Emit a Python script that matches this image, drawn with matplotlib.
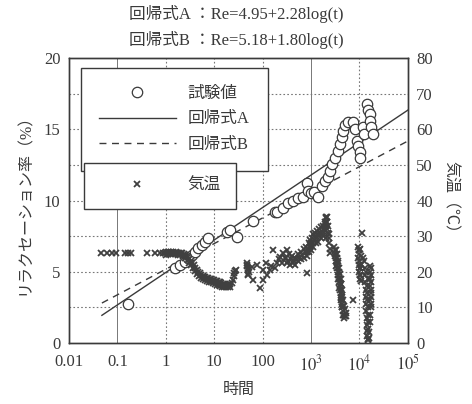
import numpy as np
import matplotlib
matplotlib.use("Agg")
import matplotlib.pyplot as plt
from matplotlib.lines import Line2D
from matplotlib.ticker import FixedLocator, FixedFormatter, NullLocator

plt.rcParams['font.family'] = ['Liberation Serif', 'Noto Sans CJK JP']
plt.rcParams['mathtext.fontset'] = 'stix'

INK = '#3a3a3a'

# 試験値 (log10 of time, relaxation %)
test_logt = [-0.78, 0.19, 0.29, 0.40, 0.46, 0.54, 0.60, 0.66, 0.75, 0.81, 0.87,
             1.26, 1.33, 1.47, 1.80, 2.25, 2.29, 2.42, 2.52, 2.63, 2.73, 2.83,
             2.91, 2.93, 3.00, 3.07, 3.14, 3.22, 3.28, 3.35, 3.39, 3.43, 3.49,
             3.55, 3.60, 3.64, 3.66, 3.70, 3.76, 3.86, 3.90, 3.95, 3.97, 4.01,
             4.01, 4.07, 4.10, 4.15, 4.17, 4.21, 4.21, 4.25, 4.28]
test_re = [2.74, 5.24, 5.47, 5.70, 5.96, 6.20, 6.40, 6.67, 6.90, 7.10, 7.40,
           7.80, 7.90, 7.45, 8.60, 9.20, 9.20, 9.50, 9.80, 10.00, 10.20, 10.25,
           11.20, 10.70, 10.50, 10.60, 10.25, 11.00, 11.40, 11.65, 12.10, 12.60, 13.00,
           13.50, 14.00, 14.50, 14.90, 15.30, 15.50, 15.50, 15.00, 14.20, 13.80, 13.40,
           13.00, 15.20, 14.70, 16.80, 16.35, 16.10, 15.60, 15.20, 14.70]

# 気温 (log10 of time, deg C)
temp_logt = [-1.33, -1.22, -1.12, -1.02, -0.84, -0.78, -0.71, -0.38, -0.22, -0.12, -0.05,
             -0.02, 0.01, 0.04, 0.07, 0.10, 0.13, 0.16, 0.19, 0.22, 0.25, 0.28, 0.31,
             0.34, 0.37, 0.40, 0.43, 0.46, 0.49, 0.52, 0.55, 0.58, 0.61, 0.64, 0.67,
             0.70, 0.73, 0.76, 0.79, 0.82, 0.85, 0.88, 0.91, 0.94, 0.97, 1.00, 1.03,
             1.06, 1.09, 1.12, 1.15, 1.18, 1.21, 1.24, 1.27, 1.30, 1.33, 1.36, 1.38,
             1.40, 1.42, 1.44, 1.46,
             1.67, 1.68, 1.69, 1.70, 1.68, 1.70, 1.71, 1.69,
             1.78, 1.80, 1.88, 1.94, 2.00, 2.00, 2.08, 2.10, 2.15, 2.18, 2.21, 2.25,
             2.29, 2.33, 2.36, 2.40, 2.42, 2.46, 2.50,
             2.48, 2.52, 2.55, 2.58, 2.61, 2.64, 2.67, 2.70, 2.73, 2.76, 2.79, 2.82,
             2.85, 2.88, 2.90, 2.91, 2.93, 2.95, 2.97, 2.99, 3.01, 3.03, 3.05, 3.07,
             3.09, 3.11, 3.13, 3.15, 3.17, 3.19, 3.21, 3.23, 3.25, 3.27, 3.29, 3.31,
             3.32, 3.33, 3.34, 3.35, 3.36, 3.37, 3.38, 3.38, 3.39, 3.39, 3.30, 3.25,
             3.20, 3.15, 3.10, 3.05, 3.00, 2.95, 2.92,
             3.47, 3.49, 3.50, 3.51, 3.52, 3.53, 3.54, 3.55, 3.56, 3.57, 3.58, 3.59,
             3.60, 3.61, 3.62, 3.63, 3.64, 3.65, 3.67, 3.69, 3.71,
             3.51, 3.53, 3.54, 3.56, 3.58, 3.59, 3.61, 3.62, 3.64, 3.65, 3.67, 3.68,
             3.70, 3.72, 3.73, 3.86,
             3.98, 3.99, 4.00, 3.98, 4.00, 3.99, 4.01, 4.00, 4.02, 4.01, 4.03, 4.02,
             4.03, 4.04, 4.05,
             4.08, 4.10, 4.11, 4.12, 4.12, 4.13, 4.13, 4.14, 4.14, 4.15, 4.15, 4.16,
             4.16, 4.17, 4.18, 4.17, 4.16, 4.17, 4.18, 4.19,
             4.21, 4.22, 4.21, 4.22, 4.23, 4.22, 4.24, 4.24, 4.25, 4.23, 4.22, 4.21]
temp_c = [25.3, 25.3, 25.3, 25.3, 25.3, 25.3, 25.3, 25.3, 25.3, 25.3, 25.3,
          25.4, 25.6, 25.5, 25.6, 25.5, 25.4, 25.6, 25.4, 25.5, 25.3, 25.4, 25.2,
          25.3, 25.0, 24.8, 24.5, 24.1, 23.6, 23.0, 22.4, 21.8, 21.2, 20.6, 20.0,
          19.6, 19.2, 18.9, 18.6, 18.4, 18.3, 18.2, 18.0, 17.9, 17.7, 17.6, 17.5,
          17.3, 17.2, 17.0, 16.8, 16.7, 16.5, 16.4, 16.3, 16.3, 16.5, 16.9, 17.8,
          18.8, 19.6, 20.2, 20.5,
          22.5, 21.5, 20.5, 19.5, 22.0, 21.0, 20.0, 19.0,
          21.3, 17.7, 21.9, 15.4, 17.7, 20.5, 22.5, 19.1, 20.5, 21.5, 26.1, 21.0,
          22.5, 23.5, 24.1, 22.5, 25.3, 24.0, 26.1,
          24.0, 23.0, 25.0, 23.5, 24.5, 23.0, 24.0, 23.5, 25.0, 24.0, 25.5, 24.8,
          26.5, 25.5, 27.0, 19.6, 26.5, 28.0, 27.0, 29.0, 28.0, 29.5, 30.5, 29.0,
          31.0, 30.0, 31.5, 30.5, 32.0, 31.0, 32.5, 31.5, 33.0, 32.0, 34.0, 33.0,
          35.0, 34.0, 35.5, 33.0, 31.0, 29.5, 28.0, 30.5, 26.5, 25.3, 29.5, 30.0,
          29.5, 28.5, 28.0, 27.0, 26.0, 25.5, 24.5,
          27.0, 26.0, 25.0, 24.0, 23.0, 22.0, 21.0, 20.0, 19.0, 18.0, 17.0, 16.0,
          15.0, 14.0, 13.0, 12.0, 11.0, 10.0, 9.0, 8.0, 7.5,
          26.0, 25.0, 24.0, 22.5, 21.0, 19.5, 18.0, 16.5, 15.0, 13.5, 12.0, 10.5,
          9.5, 8.5, 7.5, 12.1,
          27.0, 26.0, 25.0, 24.0, 23.0, 22.0, 21.0, 20.0, 19.0, 18.0, 17.5, 26.5,
          24.5, 22.0, 30.9,
          24.0, 23.0, 21.0, 19.0, 17.0, 15.0, 13.0, 11.0, 9.0, 7.0, 5.0, 3.5,
          2.0, 1.0, 0.8, 18.0, 14.0, 10.0, 6.0, 3.0,
          21.5, 20.0, 18.0, 16.0, 14.0, 12.0, 21.0, 17.0, 13.0, 10.0, 8.0, 6.0]

# second strand of the dense temperature bands
temp_extra_logt = [0.00, 0.05, 0.10, 0.15, 0.20, 0.25, 0.30, 0.35, 0.40,
                   0.45, 0.49, 0.53, 0.57, 0.61, 0.65, 0.69, 0.73, 0.77, 0.81, 0.85,
                   0.89, 0.93, 0.97, 1.01, 1.05, 1.09, 1.13, 1.17, 1.21, 1.25, 1.29, 1.33,
                   2.50, 2.56, 2.62, 2.68, 2.74, 2.80, 2.86, 2.92, 2.98, 3.04, 3.10,
                   3.16, 3.22, 3.28, 3.34, 3.31, 3.28,
                   3.49, 3.52, 3.55, 3.58, 3.61, 3.64, 3.67, 3.69, 3.55, 3.58, 3.61,
                   3.64, 3.67,
                   4.00, 4.02, 4.01, 4.14, 4.15, 4.16, 4.17, 4.18, 4.19, 4.23, 4.24, 4.25]
temp_extra_c = [24.8, 24.9, 25.0, 24.9, 25.0, 24.8, 24.6, 24.3, 24.0,
                23.4, 22.6, 21.8, 21.0, 20.2, 19.4, 18.8, 18.3, 17.9, 17.6, 17.4,
                17.2, 17.0, 16.8, 16.6, 16.4, 16.2, 16.0, 15.8, 15.7, 15.6, 15.6, 15.8,
                22.5, 22.0, 22.5, 22.0, 23.0, 23.5, 24.0, 25.5, 27.0, 28.0, 29.5,
                30.0, 30.5, 31.5, 32.0, 35.5, 33.5,
                24.5, 21.5, 18.0, 15.5, 12.5, 10.0, 8.0, 7.0, 23.0, 20.0, 16.5,
                13.0, 10.5,
                26.0, 21.0, 19.0, 20.0, 16.0, 12.0, 8.0, 4.0, 1.5, 19.0, 15.0, 11.0]

# regression coefficients (Re = a + b log t)
coef_a = (4.95, 2.28)
coef_b = (5.18, 1.80)
fit_range = (0.048, 1e5)

x_ticks = [0.01, 0.1, 1, 10, 100, 1e3, 1e4, 1e5]
x_ticklabels = ['0.01', '0.1', '1', '10', '100', r'$10^3$', r'$10^4$', r'$10^5$']

fig = plt.figure(figsize=(4.72, 4.04), dpi=100)
ax = fig.add_axes([0.146, 0.151, 0.718, 0.705])
ax2 = ax.twinx()

ax.set_xscale('log')
ax.set_xlim(0.01, 1e5)
ax.set_ylim(0, 20)
ax2.set_ylim(0, 80)

# grid
for xv in x_ticks[1:-1]:
    if xv in (0.1, 1e3):
        ax.axvline(xv, color='#777777', lw=0.7, zorder=0)
    else:
        ax.axvline(xv, color='#777777', lw=0.8, ls=(0, (1.5, 2)), zorder=0)
for yv in np.arange(2.5, 20, 2.5):
    ax.axhline(yv, color='#777777', lw=0.8, ls=(0, (1.5, 2)), zorder=0)

t_fit = np.logspace(np.log10(fit_range[0]), np.log10(fit_range[1]), 50)
lineA, = ax.plot(t_fit, coef_a[0] + coef_a[1] * np.log10(t_fit), color=INK, lw=1.0)
lineB, = ax.plot(t_fit, coef_b[0] + coef_b[1] * np.log10(t_fit), color=INK, lw=1.0,
                 ls=(0, (5, 4)))
pts, = ax.plot(10 ** np.array(test_logt), test_re, 'o', ms=7.5, mfc='white',
               mec=INK, mew=0.9, ls='none', zorder=4)

all_logt = np.concatenate([temp_logt, temp_extra_logt])
all_c = np.concatenate([temp_c, temp_extra_c])
tmp, = ax2.plot(10 ** all_logt, all_c, 'x', ms=4.5, mew=1.3,
                color='#404040', ls='none')

ax.xaxis.set_major_locator(FixedLocator(x_ticks))
ax.xaxis.set_major_formatter(FixedFormatter(x_ticklabels))
ax.xaxis.set_minor_locator(NullLocator())
ax.set_yticks([0, 5, 10, 15, 20])
ax2.set_yticks(range(0, 81, 10))
for a in (ax, ax2):
    a.tick_params(which='both', length=0, labelsize=12, colors=INK, pad=6)
    for s in a.spines.values():
        s.set_color(INK)
        s.set_linewidth(1.0)
ax.tick_params(axis='x', pad=8)

ax.set_xlabel('時間', fontsize=11.5, color=INK, labelpad=6)
ax.set_ylabel('リラクセーション率（%）', fontsize=11.5, color=INK, labelpad=8)
ax2.set_ylabel('気温（℃）', fontsize=11.5, color=INK, rotation=270, labelpad=18)

fig.text(0.5, 0.965, '回帰式A ：Re=4.95+2.28log(t)', ha='center', va='center',
         fontsize=12, color=INK)
fig.text(0.5, 0.900, '回帰式B ：Re=5.18+1.80log(t)', ha='center', va='center',
         fontsize=12, color=INK)

leg_kw = dict(loc='upper left', fontsize=12, handlelength=4.6, handletextpad=0.7,
              fancybox=False, framealpha=1, edgecolor=INK, borderpad=1.1,
              labelspacing=0.55, labelcolor=INK)
leg1 = ax2.legend([pts, lineA, lineB], ['試験値', '回帰式A', '回帰式B'],
                  bbox_to_anchor=(0.01, 0.995), **leg_kw)
leg1.get_frame().set_linewidth(1.0)
ax2.add_artist(leg1)
leg_kw.update(borderpad=0.9)
leg2 = ax2.legend([Line2D([], [], marker='x', ms=4.5, mew=1.3, color='#404040', ls='none')],
                  ['気温'], bbox_to_anchor=(0.02, 0.662), **leg_kw)
leg2.get_frame().set_linewidth(1.0)

fig.savefig('out.png', dpi=100)
